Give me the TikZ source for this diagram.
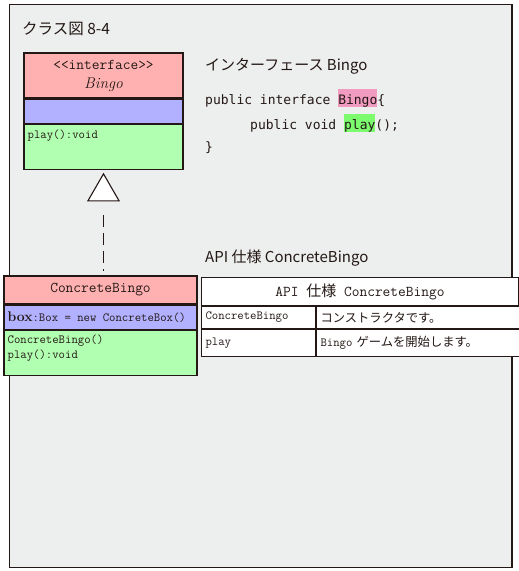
\documentclass[tikz,border=0pt]{standalone}
\usepackage{fontspec}
\newfontfamily\jpfont{Noto Sans CJK JP}
\newfontfamily\codefont{DejaVu Sans Mono}
\usetikzlibrary{positioning,shapes.geometric}

\definecolor{ink}{HTML}{231815}
\definecolor{paper}{HTML}{EDEEEE}
\definecolor{namered}{HTML}{FFB1B1}
\definecolor{attrblue}{HTML}{B1B1FF}
\definecolor{opsgreen}{HTML}{B1FFB1}
\definecolor{hlpink}{HTML}{F29BC1}
\definecolor{hlgreen}{HTML}{7DFB6F}

\newcommand\umlsmall{\ttfamily\fontsize{12.4}{15}\selectfont}
\newcommand\umlbig{\ttfamily\fontsize{15}{18}\selectfont}
\newcommand\codemark[2]{{\setlength{\fboxsep}{0pt}\colorbox{#1}{\rule[-3pt]{0pt}{18pt}#2}}}

\begin{document}
\begin{tikzpicture}[x=1pt,y=-1pt,
  umlpart/.style={draw=ink, line width=1.1pt, inner sep=0pt, text=ink},
  cell/.style={draw=ink, line width=1pt, fill=white, inner xsep=4pt, inner ysep=0pt,
    align=left, text=ink, font=\umlsmall},
  realize/.style={draw=ink, line width=1.1pt, dash pattern=on 12pt off 6pt},
  heading/.style={anchor=base west, inner sep=0pt, text=ink, font=\jpfont\fontsize{15}{18}\selectfont},
  codeline/.style={anchor=base west, inner sep=0pt, text=ink, font=\codefont\fontsize{13}{16}\selectfont}]
\useasboundingbox (0,0) rectangle (519,571);
\draw[ink, line width=1.2pt, fill=paper] (9.5,4.5) rectangle (512,567.5);

% title and headings
\node[heading, font=\jpfont\fontsize{15.5}{18}\selectfont] (title) at (22,34) {クラス図 8-4};
\node[heading] (ifhead) at (205,70) {インターフェース Bingo};
\node[heading] (apititle) at (205,262) {API 仕様 ConcreteBingo};

% source of the interface
\node[codeline] (code1) at (205,104) {public interface \codemark{hlpink}{Bingo}\{};
\node[codeline] (code2) at (250,129) {public void \codemark{hlgreen}{play}();};
\node[codeline] (code3) at (205,151) {\}};

% interface Bingo
\node[umlpart, fill=namered, minimum width=159pt, minimum height=45pt, align=center, font=\umlbig] (ifname) at (103.5,75.5)
  {<<interface>>\\[1pt]{\rmfamily\itshape\fontsize{15.5}{18}\selectfont Bingo}};
\node[umlpart, fill=attrblue, minimum width=159pt, minimum height=24pt, below=0pt of ifname] (ifattr) {};
\node[umlpart, fill=opsgreen, minimum width=159pt, minimum height=45pt, below=0pt of ifattr] (ifops) {};
\node[anchor=north west, inner sep=0pt, text=ink, font=\umlsmall] (ifplay) at ([shift={(4pt,-6pt)}]ifops.north west) {play():void};

% realization arrow
\node[regular polygon, regular polygon sides=3, draw=ink, line width=1.1pt, fill=white,
  minimum size=36pt, inner sep=0pt, anchor=corner 1] (tri) at ([yshift=-3pt]ifops.south) {};

% class ConcreteBingo
\node[umlpart, fill=namered, minimum width=193pt, minimum height=28pt, font=\umlbig] (cbname) at (100.5,290) {ConcreteBingo};
\node[umlpart, fill=attrblue, minimum width=193pt, minimum height=24pt, below=0pt of cbname] (cbattr) {};
\node[anchor=west, inner sep=0pt, text=ink, font=\umlsmall] (cbbox) at ([xshift=4pt]cbattr.west)
  {{\rmfamily\bfseries\fontsize{14}{16}\selectfont box}:Box = new ConcreteBox()};
\node[umlpart, fill=opsgreen, minimum width=193pt, minimum height=45pt, below=0pt of cbattr] (cbops) {};
\node[anchor=north west, inner sep=0pt, text=ink, font=\umlsmall, align=left] (cbmeth) at ([shift={(4pt,-5pt)}]cbops.north west)
  {ConcreteBingo()\\play():void};

\draw[realize, shorten <=14pt, shorten >=4pt] (tri.side 2) -- (tri.side 2 |- cbname.north);

% API table
\node[cell, anchor=north west, minimum width=317pt, minimum height=28pt, align=center,
  font=\ttfamily\fontsize{15}{18}\selectfont] (apihead) at (201,277)
  {API {\jpfont 仕様} ConcreteBingo};
\node[cell, anchor=north west, text width=106pt, minimum height=22pt] (c11) at (apihead.south west) {ConcreteBingo};
\node[cell, anchor=north west, text width=195pt, minimum height=22pt] (c12) at (c11.north east)
  {{\jpfont\fontsize{12.3}{15}\selectfont コンストラクタです。}};
\node[cell, anchor=north west, text width=106pt, minimum height=27pt] (c21) at (c11.south west) {play};
\node[cell, anchor=north west, text width=195pt, minimum height=27pt] (c22) at (c21.north east)
  {Bingo {\jpfont\fontsize{12.3}{15}\selectfont ゲームを開始します。}};
\end{tikzpicture}
\end{document}
